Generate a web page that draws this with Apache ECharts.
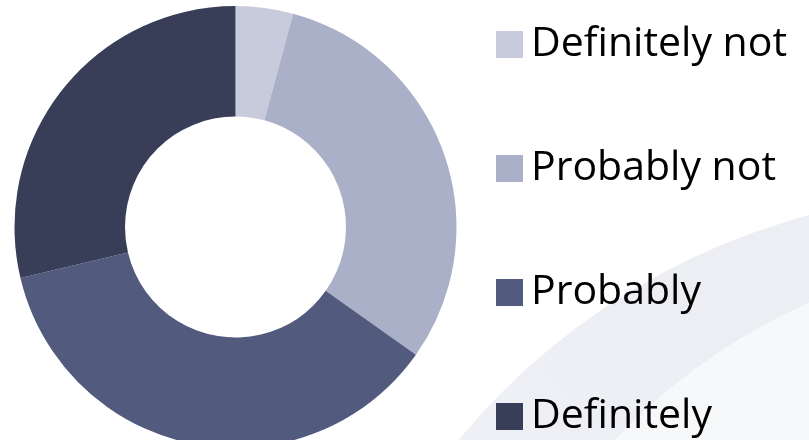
<!DOCTYPE html>
<html>
<head>
<meta charset="utf-8">
<script src="https://cdn.jsdelivr.net/npm/echarts@6/dist/echarts.min.js"></script>
<style>
  html, body { margin: 0; padding: 0; background: #ffffff; }
  #chart { width: 809px; height: 440px; }
</style>
</head>
<body>
<div id="chart"></div>
<script>
// Survey answers, share of respondents (%)
const categories = ['Definitely not', 'Probably not', 'Probably', 'Definitely'];
const shares = [4.2, 30.6, 36.5, 28.7];
const colors = ['#c8cbdb', '#aab0c8', '#525a7d', '#393e58'];

const chart = echarts.init(document.getElementById('chart'), null, { renderer: 'canvas' });

chart.setOption({
  animation: false,
  backgroundColor: '#ffffff',
  color: colors,
  graphic: [
    // soft decorative swoosh in the lower right corner
    {
      type: 'circle', z: -10, silent: true,
      shape: { cx: 985, cy: 875, r: 683 },
      style: {
        fill: {
          type: 'linear', x: 0, y: 1, x2: 1, y2: 0,
          colorStops: [
            { offset: 0.25, color: '#f3f4f7' },
            { offset: 0.6, color: '#eceef4' },
            { offset: 1, color: '#eef0f5' }
          ]
        }
      }
    },
    {
      type: 'circle', z: -9, silent: true,
      shape: { cx: 1050, cy: 850, r: 598 },
      style: { fill: '#f7f8fa' }
    }
  ],
  legend: {
    orient: 'vertical',
    left: 491,
    top: 19,
    height: 421,
    itemWidth: 27,
    itemHeight: 27,
    itemGap: 83,
    icon: 'rect',
    selectedMode: false,
    data: categories,
    textStyle: {
      fontFamily: 'Open Sans',
      fontSize: 41,
      color: '#000000',
      padding: [4, 0, 0, 3]
    }
  },
  series: [{
    type: 'pie',
    center: [235.5, 227],
    radius: [110.5, 221],
    startAngle: 90,
    clockwise: true,
    label: { show: false },
    labelLine: { show: false },
    emphasis: { disabled: true },
    data: categories.map((name, i) => ({ name, value: shares[i] }))
  }]
});
</script>
</body>
</html>
